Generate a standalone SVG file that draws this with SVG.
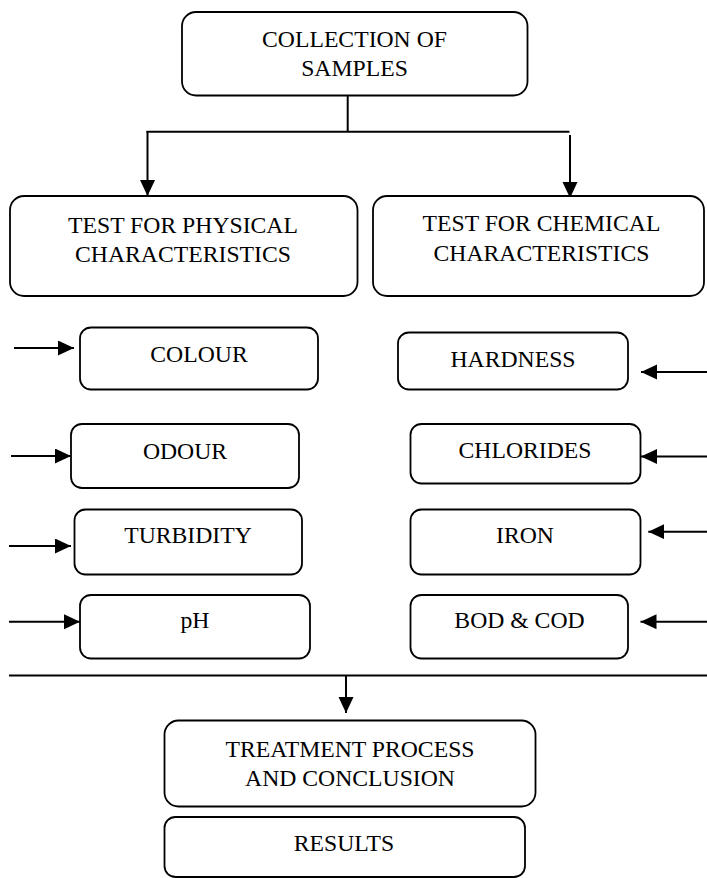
<svg xmlns="http://www.w3.org/2000/svg" width="707" height="878" viewBox="0 0 707 878">
<style>
.box{fill:#fff;stroke:#000;stroke-width:1.8}
.t{font-family:"Liberation Serif","Times New Roman",serif;font-size:23.7px;fill:#000;text-anchor:middle}
.ln{stroke:#000;stroke-width:2;fill:none}
.ar{stroke:#000;stroke-width:2;fill:none;marker-end:url(#ah)}
</style>
<defs>
<marker id="ah" markerUnits="userSpaceOnUse" markerWidth="17" markerHeight="16" refX="16" refY="7.5" orient="auto">
<path d="M0,0 L16,7.5 L0,15 z" fill="#000"/>
</marker>
</defs>
<rect width="707" height="878" fill="#fff"/>
<g id="connectors">
<line class="ln" x1="347.7" y1="95" x2="347.7" y2="131.7" stroke-width="1.4"/>
<line class="ln" x1="146.5" y1="131.7" x2="569.5" y2="131.7"/>
<line class="ar" x1="147.5" y1="131" x2="147.5" y2="196"/>
<line class="ar" x1="570" y1="135" x2="570" y2="198"/>
<line class="ar" x1="14" y1="348" x2="74" y2="348"/>
<line class="ar" x1="707" y1="372" x2="641" y2="372"/>
<line class="ar" x1="11" y1="456" x2="71" y2="456"/>
<line class="ar" x1="707" y1="456.5" x2="641" y2="456.5"/>
<line class="ar" x1="9" y1="546" x2="71" y2="546"/>
<line class="ar" x1="707" y1="531.7" x2="648.3" y2="531.7"/>
<line class="ar" x1="9" y1="621.7" x2="80" y2="621.7"/>
<line class="ar" x1="707" y1="621.7" x2="640.5" y2="621.7"/>
<line class="ln" x1="9" y1="675.5" x2="707" y2="675.5"/>
<line class="ar" x1="346" y1="675.5" x2="346" y2="713"/>
</g>
<g id="collection">
<rect class="box" x="182" y="12" width="345.5" height="83.5" rx="14"/>
<text class="t" x="354.5" y="47">COLLECTION OF</text>
<text class="t" x="354.5" y="76">SAMPLES</text>
</g>
<g id="physical">
<rect class="box" x="10" y="196" width="347.5" height="100" rx="14"/>
<text class="t" x="183" y="232.5">TEST FOR PHYSICAL</text>
<text class="t" x="183" y="261.5">CHARACTERISTICS</text>
</g>
<g id="chemical">
<rect class="box" x="373" y="196" width="331" height="100" rx="14"/>
<text class="t" x="541.5" y="231">TEST FOR CHEMICAL</text>
<text class="t" x="541.5" y="260.5">CHARACTERISTICS</text>
</g>
<g id="colour">
<rect class="box" x="80" y="327.5" width="238" height="62" rx="11"/>
<text class="t" x="199" y="362">COLOUR</text>
</g>
<g id="hardness">
<rect class="box" x="398" y="332.5" width="230" height="57" rx="11"/>
<text class="t" x="513" y="366.5">HARDNESS</text>
</g>
<g id="odour">
<rect class="box" x="71" y="424" width="228" height="64" rx="11"/>
<text class="t" x="185" y="459">ODOUR</text>
</g>
<g id="chlorides">
<rect class="box" x="410.5" y="424" width="230" height="59.5" rx="11"/>
<text class="t" x="525" y="457.5">CHLORIDES</text>
</g>
<g id="turbidity">
<rect class="box" x="74.5" y="509.5" width="227.5" height="65" rx="11"/>
<text class="t" x="188" y="542.5">TURBIDITY</text>
</g>
<g id="iron">
<rect class="box" x="410.5" y="509.5" width="230" height="65" rx="11"/>
<text class="t" x="525" y="542.5">IRON</text>
</g>
<g id="ph">
<rect class="box" x="80" y="595" width="230" height="63.5" rx="11"/>
<text class="t" x="195" y="628">pH</text>
</g>
<g id="bodcod">
<rect class="box" x="410.5" y="595" width="217.5" height="63.5" rx="11"/>
<text class="t" x="519.5" y="628">BOD &amp; COD</text>
</g>
<g id="treatment">
<rect class="box" x="164.5" y="720.5" width="371" height="86" rx="14"/>
<text class="t" x="350" y="756.5">TREATMENT PROCESS</text>
<text class="t" x="350" y="785.5">AND CONCLUSION</text>
</g>
<g id="results">
<rect class="box" x="164.5" y="817" width="360.5" height="60" rx="11"/>
<text class="t" x="344" y="851">RESULTS</text>
</g>
</svg>
